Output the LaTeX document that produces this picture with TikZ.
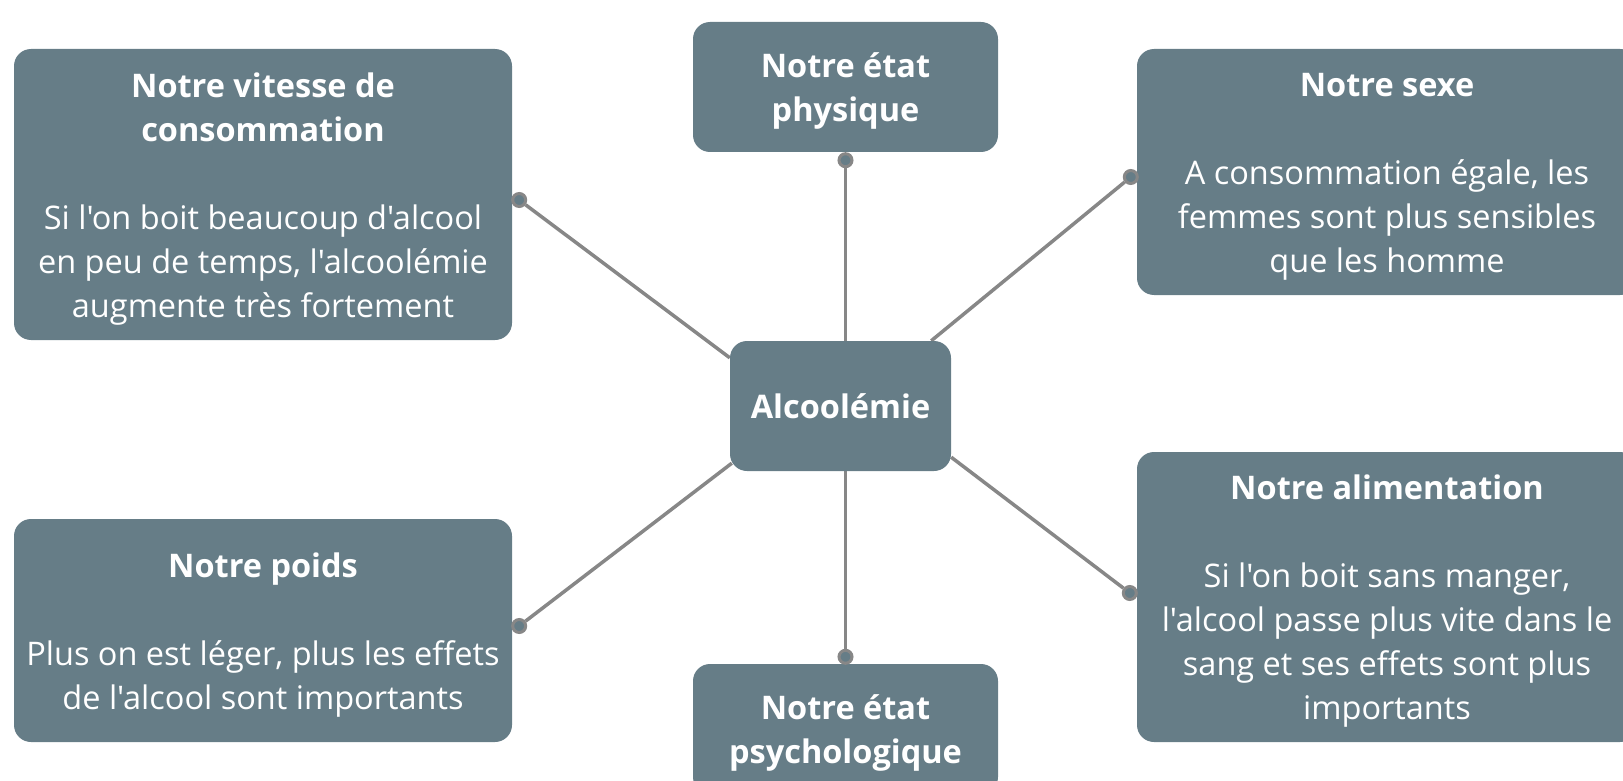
\documentclass[tikz,border=0pt]{standalone}
\usepackage{fontspec}
\setmainfont{Open Sans}[Ligatures=TeXOff]
\usetikzlibrary{backgrounds}
\definecolor{boxfill}{HTML}{667D87}
\definecolor{linkgray}{HTML}{878787}
\tikzset{
  card/.style={fill=boxfill, rounded corners=17pt, text=white, align=center,
    inner sep=0pt, font=\fontsize{32.5}{44}\selectfont},
  link/.style={draw=linkgray, line width=3.5pt},
  knob/.style={circle, draw=linkgray, fill=boxfill, line width=3pt,
    minimum size=13pt, inner sep=0pt},
}
\newcommand{\hd}[1]{\textbf{#1}}
\newcommand{\tophd}[1]{\rule{0pt}{33pt}\textbf{#1}}

\begin{document}
\begin{tikzpicture}[x=1pt, y=-1pt]
\useasboundingbox (0,0) rectangle (1623,781);

\node[card, minimum width=221pt, minimum height=130pt] (alc) at (840.5,406) {\hd{Alcoolémie}};

\node[card, minimum width=498pt, minimum height=291pt] (vit) at (263,194.5)
  {\tophd{Notre vitesse de}\\ \hd{consommation}\\[44pt]
   Si l'on boit beaucoup d'alcool\\ en peu de temps, l'alcoolémie\\ augmente très fortement};
\node[card, minimum width=305pt, minimum height=130pt] (phy) at (845.5,87)
  {\tophd{Notre état}\\ \hd{physique}};
\node[card, minimum width=500pt, minimum height=246pt] (sex) at (1387,172)
  {\tophd{Notre sexe}\\[44pt]
   A consommation égale, les\\ femmes sont plus sensibles\\ que les homme};
\node[card, minimum width=498pt, minimum height=223pt] (poi) at (263,630.5)
  {\tophd{Notre poids}\\[44pt]
   Plus on est léger, plus les effets\\ de l'alcool sont importants};
\node[card, minimum width=305pt, minimum height=130pt] (psy) at (845.5,729)
  {\tophd{Notre état}\\ \hd{psychologique}};
\node[card, minimum width=500pt, minimum height=290pt] (ali) at (1387,597)
  {\tophd{Notre alimentation}\\[44pt]
   Si l'on boit sans manger,\\ l'alcool passe plus vite dans le\\ sang et ses effets sont plus\\ importants};

\node[knob] (vitk) at ([shift={(7pt,-5.5pt)}]vit.east) {};
\node[knob] (phyk) at ([yshift=-8pt]phy.south) {};
\node[knob] (sexk) at ([shift={(-6pt,-5pt)}]sex.west) {};
\node[knob] (poik) at ([shift={(7pt,4.5pt)}]poi.east) {};
\node[knob] (psyk) at ([yshift=7pt]psy.north) {};
\node[knob] (alik) at ([shift={(-7pt,4pt)}]ali.west) {};

\begin{pgfonlayer}{background}
\draw[link] (vitk) -- ([yshift=-17pt]alc.north west);
\draw[link] (phyk) -- (phyk |- alc.north);
\draw[link] (sexk) -- ([xshift=-20pt]alc.north east);
\draw[link] (poik) -- ([shift={(2pt,8pt)}]alc.south west);
\draw[link] (psyk) -- (psyk |- alc.south);
\draw[link] (alik) -- ([yshift=14pt]alc.south east);
\end{pgfonlayer}

\end{tikzpicture}
\end{document}
